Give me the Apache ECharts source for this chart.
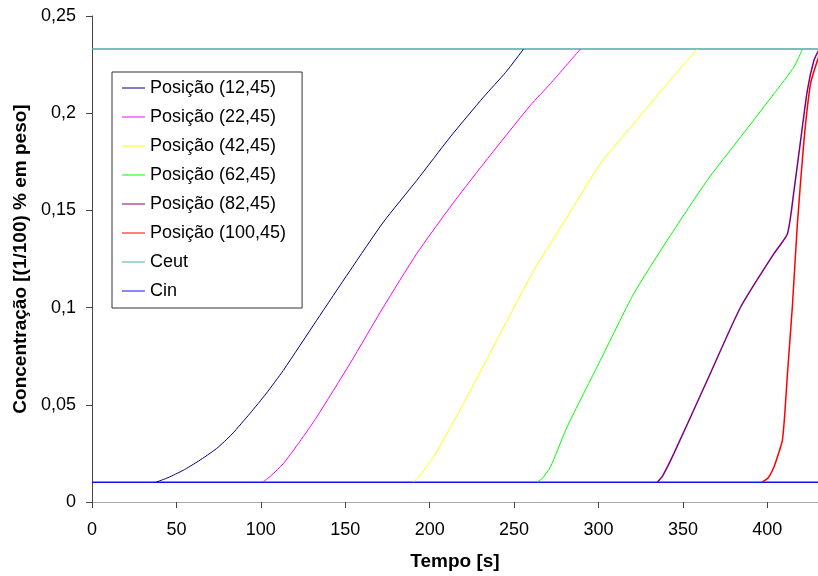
<!DOCTYPE html>
<html>
<head>
<meta charset="utf-8">
<script src="https://cdn.jsdelivr.net/npm/echarts@6/dist/echarts.min.js"></script>
<style>html,body{margin:0;padding:0;background:#fff;overflow:hidden}#c{width:818px;height:576px}</style>
</head>
<body>
<div id="c"></div>
<script>
// Data (time [s], concentration)
const names = ["Posição (12,45)","Posição (22,45)","Posição (42,45)","Posição (62,45)","Posição (82,45)","Posição (100,45)","Ceut","Cin"];
const pos12 = [[38.2,0.0103],[45,0.0125],[54,0.0163],[63,0.021],[73.8,0.0275],[83,0.035],[93.5,0.0455],[103,0.0556],[113.3,0.0677],[133.1,0.0935],[152.8,0.119],[172.6,0.144],[192.4,0.1655],[212.2,0.1878],[231.9,0.2083],[245,0.221],[255.6,0.233]];
const pos22 = [[101.4,0.0103],[106,0.0135],[113.3,0.0197],[123,0.031],[133.1,0.0437],[152.8,0.0712],[172.6,0.1003],[192.4,0.1278],[212.2,0.1518],[231.9,0.174],[259.6,0.204],[271.5,0.2152],[289.3,0.233]];
const pos42 = [[190.4,0.0103],[195,0.0145],[202.3,0.0232],[212,0.038],[222.1,0.054],[241.8,0.0866],[261.6,0.119],[281.4,0.1466],[301.1,0.174],[320.9,0.1947],[340.7,0.2152],[358.5,0.233]];
const pos62 = [[263.6,0.0103],[266.5,0.012],[271.5,0.018],[281.4,0.0386],[301.1,0.0729],[320.9,0.1072],[340.7,0.1346],[364.4,0.1655],[384.2,0.1878],[403.9,0.21],[415.8,0.2238],[420.8,0.233]];
const pos82 = [[334.8,0.0103],[338,0.0135],[344.6,0.0249],[364.4,0.0626],[384.2,0.1003],[403.9,0.1278],[411.9,0.138],[415.8,0.1603],[419.7,0.186],[423.7,0.2118],[427.6,0.2272],[430.4,0.2324]];
const pos100 = [[397,0.0103],[400.5,0.0125],[403.9,0.018],[407,0.026],[408.9,0.0317],[410.3,0.045],[411.9,0.066],[414.8,0.1003],[417.8,0.1432],[421.7,0.186],[425.6,0.2152],[430.4,0.229]];
const ceut = [[0,0.233],[430,0.233]];
const cin = [[0,0.0101],[430,0.0101]];
const xTicks = [0,50,100,150,200,250,300,350,400];
const colors = ["#000080","#FF00FF","#FFFF00","#00FF00","#800080","#FF0000","#4fa8a8","#1010FF"];
const widths = [1,1,1,1,1.5,1.5,1.5,1.5];
const allData = [pos12,pos22,pos42,pos62,pos82,pos100,ceut,cin];

const font = "'Liberation Sans', Arial, sans-serif";
const chart = echarts.init(document.getElementById('c'), null, {renderer:'canvas', width:818, height:576});
chart.setOption({
  animation:false,
  backgroundColor:'#fff',
  grid:{left:92,right:0,top:16,bottom:74,containLabel:false},
  legend:{
    orient:'vertical', left:112, top:72,
    data:names,
    itemWidth:23, itemHeight:10, itemGap:9,
    padding:[6,16,7,10],
    borderColor:'#333', borderWidth:1, borderRadius:0,
    backgroundColor:'#fff',
    textStyle:{fontFamily:font,fontSize:18,color:'#000',lineHeight:20},
    icon:'path://M0,0 L23,0 L23,1 L0,1 Z'
  },
  xAxis:[{
    type:'value', min:0, max:430,
    name:'Tempo [s]', nameLocation:'middle', nameGap:50,
    nameTextStyle:{fontFamily:font,fontSize:19,fontWeight:'bold',color:'#000'},
    axisLine:{show:true,onZero:false,lineStyle:{color:'#444',width:1}},
    axisTick:{show:true,length:6,inside:false,customValues:xTicks,lineStyle:{color:'#444'}},
    axisLabel:{customValues:xTicks,margin:19,fontFamily:font,fontSize:18,color:'#000'},
    splitLine:{show:false}
  },{
    type:'value', min:0, max:430, position:'top',
    axisLine:{show:true,lineStyle:{color:'#aaa',width:1}},
    axisTick:{show:false}, axisLabel:{show:false}, splitLine:{show:false}
  }],
  yAxis:{
    type:'value', min:0, max:0.25, interval:0.05,
    name:'Concentração [(1/100) % em peso]', nameLocation:'middle', nameGap:62, nameRotate:90,
    nameTextStyle:{fontFamily:font,fontSize:19,fontWeight:'bold',color:'#000'},
    axisLine:{show:true,lineStyle:{color:'#444',width:1}},
    axisTick:{show:true,length:6,lineStyle:{color:'#444'}},
    axisLabel:{margin:16,fontFamily:font,fontSize:18,color:'#000',
      formatter:v=>String(+v.toFixed(2)).replace('.',',')},
    splitLine:{show:false}
  },
  series: allData.map((d,i)=>({
    name:names[i], type:'line', data:d, showSymbol:false, symbol:'none',
    smooth: i<6 ? 0.2 : false, clip:true,
    lineStyle:{color:colors[i],width:widths[i]},
    itemStyle:{color:colors[i]},
    z: i>=6 ? 1 : 2
  }))
});
</script>
</body>
</html>
